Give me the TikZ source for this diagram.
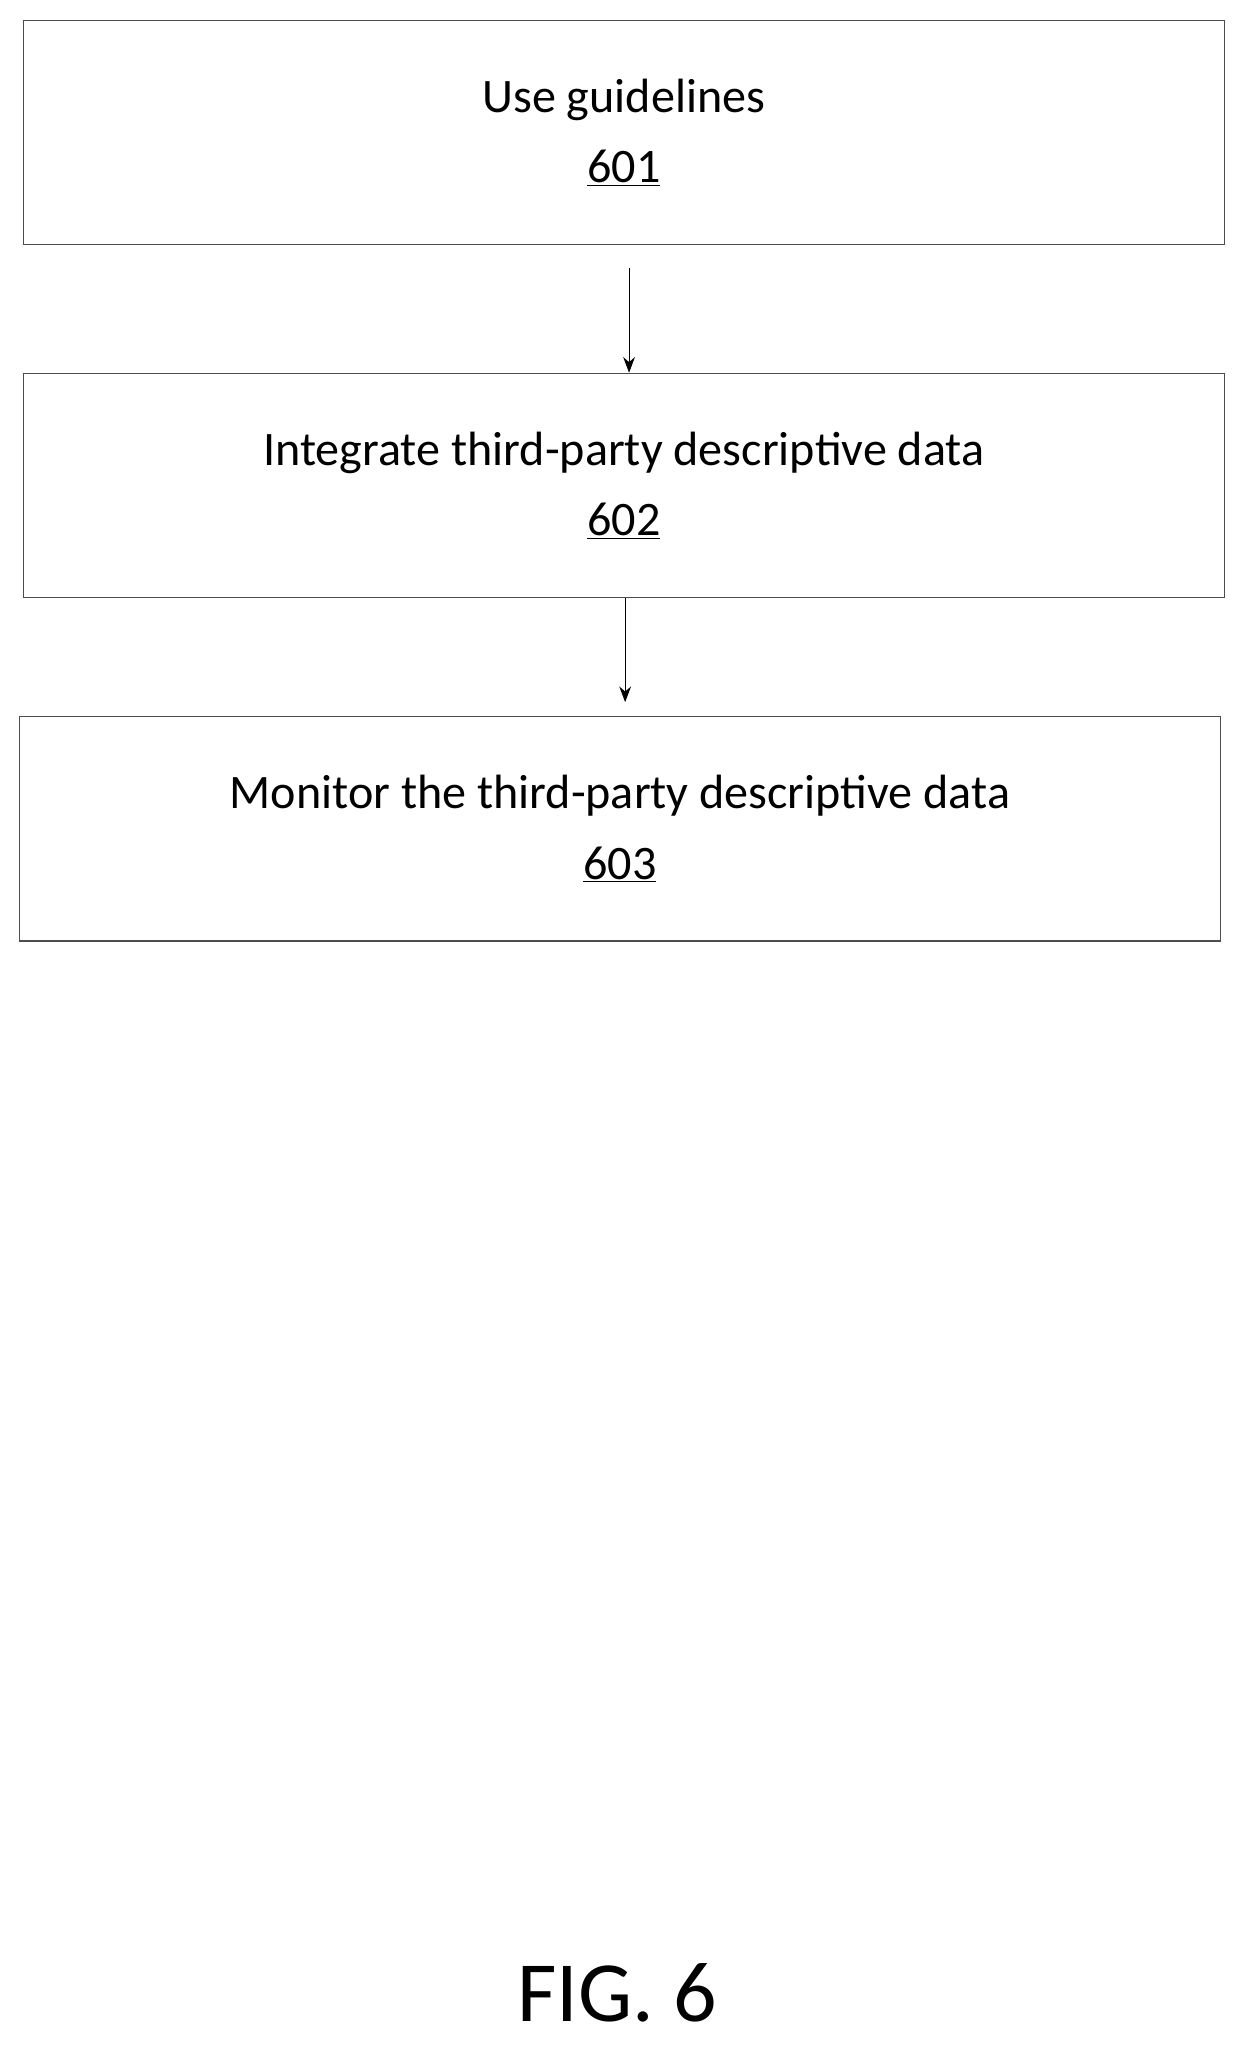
\documentclass[tikz,border=0pt]{standalone}
\usepackage{fontspec}
\setmainfont{Carlito}
\usetikzlibrary{arrows.meta}
\begin{document}
\begin{tikzpicture}[x=1bp,y=-1bp,
  box/.style={draw=black!70,line width=0.8bp,minimum width=920bp,minimum height=172bp,align=center,font=\fontsize{37}{54}\selectfont},
  arr/.style={-{Stealth[length=12bp,width=9bp]},line width=0.8bp}]
\useasboundingbox (0,0) rectangle (955,1570);
\node[box] (b1) at (478,101.5) {Use guidelines\\\underline{601}};
\node[box] (b2) at (478,372) {Integrate third-party descriptive data\\\underline{602}};
\node[box] (b3) at (475,635) {Monitor the third-party descriptive data\\\underline{603}};
\coordinate (a1) at (482,205);
\draw[arr] (a1) -- (b2.north -| a1);
\draw[arr] (b2.south -| 479,0) -- (479,538);
\node[font=\fontsize{66}{70}\selectfont] (fig) at (473,1527) {FIG. 6};
\end{tikzpicture}
\end{document}
